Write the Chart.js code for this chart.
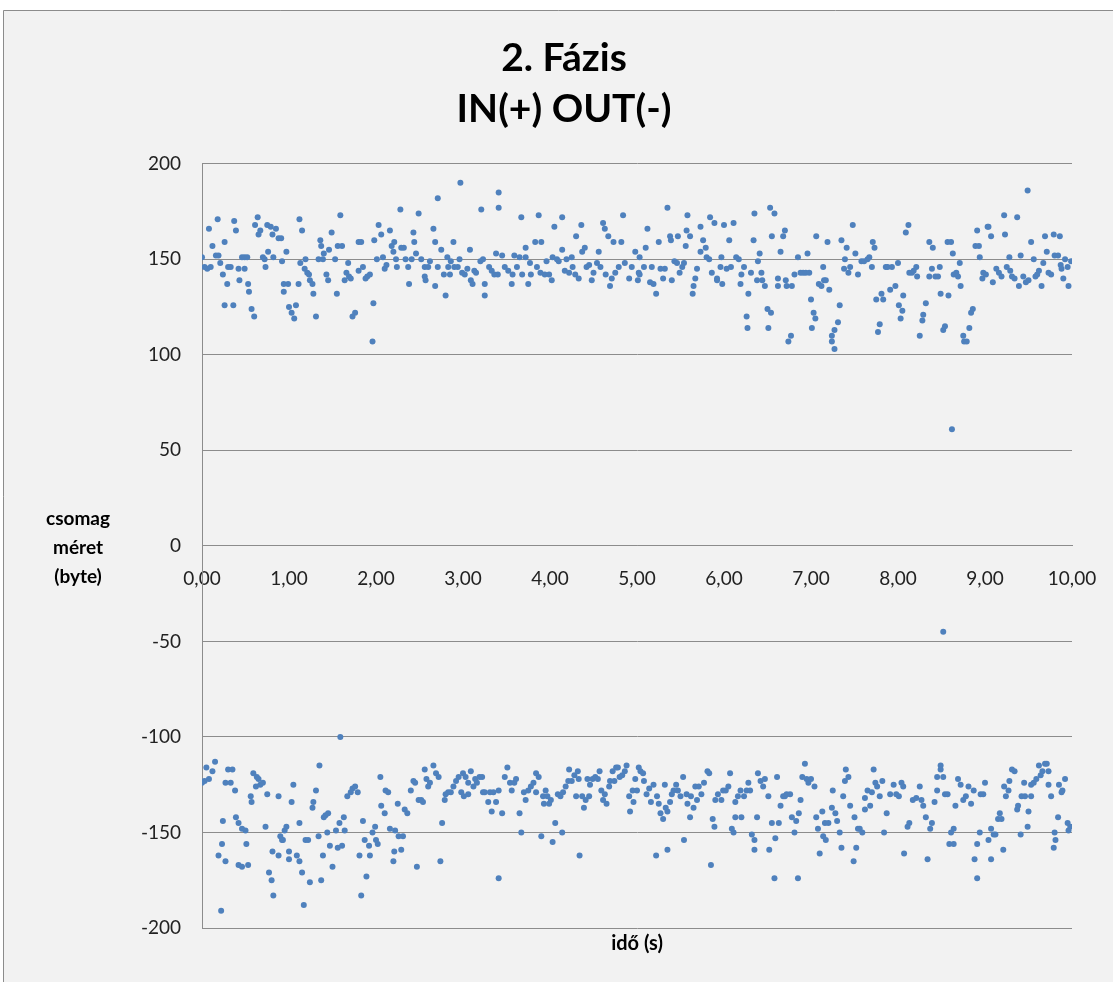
<!DOCTYPE html>
<html>
<head>
<meta charset="utf-8">
<script src="https://cdn.jsdelivr.net/npm/chart.js@4/dist/chart.umd.min.js"></script>
<style>
  html, body { margin: 0; padding: 0; background: #fff; }
  #wrap { position: relative; width: 1113px; height: 982px; }
</style>
</head>
<body>
<div id="wrap"><canvas id="chart" width="1113" height="982"></canvas></div>
<script>
// 2. fázis – csomagméret az idő függvényében, [idő (s), méret (byte)]
const inPackets = [
  [0,151],[0.03,146],[0.06,145],[0.08,166],[0.10,146],[0.12,157],[0.16,152],[0.18,171],[0.19,152],[0.21,148],[0.24,142],[0.26,126],[0.26,159],[0.29,137],[0.30,146],[0.33,146],[0.36,126],[0.37,170],[0.39,165],[0.42,145],[0.43,139],[0.46,151],[0.49,145],[0.49,151],[0.52,151],[0.53,137],[0.54,133],[0.57,124],[0.60,120],[0.61,168],[0.64,172],[0.65,163],[0.67,165],[0.70,151],[0.72,150],[0.73,146],[0.75,168],[0.76,154],[0.79,167],[0.81,163],[0.82,151],[0.85,166],[0.88,161],[0.91,161],[0.92,149],[0.94,137],[0.94,133],[0.97,154],[0.99,137],
  [1.00,125],[1.03,122],[1.06,119],[1.08,126],[1.11,137],[1.12,171],[1.13,148],[1.15,165],[1.18,145],[1.19,150],[1.21,143],[1.23,142],[1.24,139],[1.27,137],[1.28,132],[1.31,120],[1.34,150],[1.36,160],[1.37,157],[1.39,150],[1.40,153],[1.43,142],[1.45,139],[1.46,155],[1.49,164],[1.53,150],[1.55,132],[1.56,157],[1.59,173],[1.61,157],[1.64,139],[1.66,143],[1.68,148],[1.69,141],[1.71,140],[1.73,120],[1.76,122],[1.80,144],[1.80,159],[1.83,159],[1.85,146],[1.88,140],[1.90,141],[1.93,142],[1.96,107],[1.97,127],[1.98,160],
  [2.01,150],[2.03,168],[2.06,163],[2.08,151],[2.10,145],[2.12,147],[2.16,165],[2.18,157],[2.20,154],[2.21,159],[2.23,150],[2.24,146],[2.28,176],[2.29,156],[2.32,156],[2.34,150],[2.37,146],[2.38,137],[2.41,150],[2.43,164],[2.44,159],[2.46,153],[2.49,174],[2.52,150],[2.56,146],[2.56,141],[2.57,139],[2.60,146],[2.62,149],[2.66,166],[2.68,159],[2.68,136],[2.71,182],[2.71,146],[2.75,155],[2.78,142],[2.80,131],[2.82,151],[2.83,146],[2.85,142],[2.86,149],[2.89,159],[2.90,146],[2.94,146],[2.96,150],[2.97,190],[2.99,143],
  [3.02,142],[3.05,145],[3.08,155],[3.09,139],[3.11,137],[3.13,144],[3.15,143],[3.20,149],[3.21,176],[3.23,150],[3.25,137],[3.25,131],[3.30,146],[3.33,144],[3.36,142],[3.38,153],[3.40,142],[3.41,185],[3.41,177],[3.45,152],[3.48,146],[3.52,144],[3.56,137],[3.57,142],[3.59,152],[3.62,146],[3.65,151],[3.67,172],[3.68,142],[3.72,156],[3.72,151],[3.75,137],[3.77,148],[3.78,142],[3.83,159],[3.85,146],[3.87,173],[3.89,143],[3.90,159],[3.94,142],[3.96,149],[3.99,142],
  [4.02,139],[4.03,151],[4.05,167],[4.08,150],[4.10,149],[4.14,172],[4.14,155],[4.17,144],[4.19,150],[4.22,143],[4.25,151],[4.26,146],[4.29,142],[4.30,162],[4.33,140],[4.36,168],[4.37,154],[4.40,156],[4.42,146],[4.45,147],[4.48,139],[4.50,143],[4.54,148],[4.56,154],[4.58,146],[4.61,169],[4.63,166],[4.64,142],[4.67,162],[4.69,136],[4.71,140],[4.73,159],[4.75,143],[4.79,146],[4.82,159],[4.84,173],[4.86,148],[4.91,140],[4.94,146],[4.98,154],
  [5.01,139],[5.02,143],[5.03,151],[5.03,142],[5.08,146],[5.10,156],[5.12,166],[5.15,138],[5.17,146],[5.19,137],[5.22,132],[5.25,159],[5.27,145],[5.30,140],[5.32,145],[5.35,177],[5.38,162],[5.39,160],[5.40,139],[5.43,149],[5.46,148],[5.47,162],[5.49,143],[5.52,146],[5.54,148],[5.56,157],[5.57,165],[5.58,173],[5.61,162],[5.64,132],[5.65,136],[5.67,140],[5.69,145],[5.73,167],[5.73,154],[5.76,160],[5.79,156],[5.80,151],[5.83,150],[5.84,172],[5.86,143],[5.89,169],[5.92,140],[5.92,139],[5.96,146],[5.97,151],[5.98,137],
  [6.00,168],[6.03,145],[6.06,160],[6.08,146],[6.11,169],[6.14,151],[6.17,150],[6.19,137],[6.20,142],[6.23,146],[6.26,120],[6.27,114],[6.28,132],[6.31,143],[6.34,160],[6.35,174],[6.38,139],[6.39,149],[6.41,153],[6.43,143],[6.44,139],[6.47,136],[6.50,124],[6.51,114],[6.53,177],[6.54,122],[6.55,162],[6.58,174],[6.62,136],[6.62,140],[6.65,154],[6.68,162],[6.70,165],[6.71,139],[6.72,136],[6.74,107],[6.77,110],[6.78,136],[6.81,142],[6.85,151],[6.88,143],[6.91,143],[6.94,143],[6.96,153],[6.98,143],
  [7.00,129],[7.01,114],[7.03,122],[7.05,119],[7.06,162],[7.09,137],[7.12,136],[7.14,146],[7.15,139],[7.17,139],[7.19,159],[7.21,134],[7.24,110],[7.24,107],[7.27,103],[7.27,113],[7.31,117],[7.33,126],[7.35,160],[7.38,145],[7.39,150],[7.41,156],[7.43,143],[7.45,146],[7.48,168],[7.51,153],[7.54,142],[7.58,149],[7.61,149],[7.65,150],[7.67,151],[7.70,146],[7.71,159],[7.73,156],[7.75,129],[7.77,112],[7.79,116],[7.81,132],[7.83,129],[7.86,146],[7.88,146],[7.91,134],[7.93,146],[7.97,136],
  [8.00,148],[8.01,126],[8.03,119],[8.05,123],[8.06,131],[8.09,164],[8.12,168],[8.13,143],[8.16,143],[8.18,144],[8.21,146],[8.22,141],[8.25,110],[8.28,118],[8.29,121],[8.32,127],[8.36,141],[8.36,159],[8.39,145],[8.40,156],[8.43,141],[8.46,141],[8.48,146],[8.49,132],[8.52,113],[8.54,115],[8.57,159],[8.58,131],[8.61,159],[8.62,61],[8.63,153],[8.64,142],[8.67,143],[8.69,141],[8.71,148],[8.72,136],[8.75,110],[8.76,107],[8.79,107],[8.82,114],[8.84,122],[8.86,124],[8.89,157],[8.91,165],[8.93,157],[8.94,151],[8.97,140],[8.98,143],
  [9.01,142],[9.03,167],[9.04,167],[9.07,162],[9.09,138],[9.13,145],[9.16,143],[9.19,141],[9.22,173],[9.23,163],[9.25,146],[9.28,151],[9.29,144],[9.31,141],[9.34,140],[9.37,172],[9.39,136],[9.41,152],[9.44,141],[9.47,138],[9.49,186],[9.50,139],[9.53,159],[9.56,150],[9.58,141],[9.60,142],[9.62,144],[9.65,136],[9.67,148],[9.69,162],[9.71,154],[9.73,143],[9.76,142],[9.79,163],[9.80,152],[9.84,152],[9.86,162],[9.87,147],[9.88,145],[9.90,140],[9.92,150],[9.95,146],[9.96,136],[9.99,149]
];

const outPackets = [
  [0,-124],[0.03,-123],[0.05,-116],[0.08,-122],[0.12,-118],[0.15,-113],[0.19,-162],[0.22,-191],[0.23,-156],[0.24,-144],[0.27,-165],[0.27,-124],[0.30,-117],[0.33,-124],[0.35,-117],[0.38,-128],[0.39,-142],[0.42,-145],[0.42,-167],[0.46,-168],[0.46,-148],[0.50,-149],[0.51,-156],[0.53,-167],[0.56,-131],[0.57,-134],[0.59,-119],[0.62,-126],[0.63,-121],[0.65,-122],[0.67,-125],[0.70,-124],[0.73,-147],[0.75,-130],[0.77,-171],[0.80,-175],[0.81,-160],[0.82,-183],[0.88,-131],[0.88,-162],[0.90,-152],[0.92,-154],[0.93,-154],[0.95,-149],[0.97,-147],
  [1.00,-160],[1.00,-164],[1.03,-134],[1.05,-125],[1.09,-162],[1.12,-145],[1.12,-165],[1.15,-171],[1.17,-188],[1.19,-154],[1.22,-154],[1.24,-176],[1.27,-137],[1.28,-134],[1.31,-128],[1.34,-152],[1.35,-115],[1.37,-175],[1.39,-162],[1.40,-142],[1.42,-141],[1.44,-150],[1.45,-140],[1.47,-157],[1.50,-168],[1.54,-149],[1.56,-158],[1.58,-145],[1.59,-100],[1.61,-157],[1.63,-142],[1.64,-149],[1.67,-131],[1.71,-129],[1.73,-127],[1.76,-126],[1.79,-129],[1.81,-162],[1.83,-183],[1.85,-144],[1.87,-154],[1.89,-173],[1.92,-157],[1.93,-162],[1.96,-150],[1.99,-147],
  [2.00,-154],[2.02,-156],[2.05,-121],[2.06,-136],[2.10,-140],[2.11,-128],[2.14,-129],[2.16,-148],[2.20,-165],[2.21,-160],[2.22,-149],[2.25,-135],[2.26,-152],[2.29,-159],[2.31,-152],[2.33,-138],[2.36,-140],[2.40,-128],[2.43,-123],[2.45,-124],[2.47,-168],[2.49,-133],[2.52,-133],[2.54,-134],[2.56,-117],[2.58,-122],[2.60,-126],[2.62,-124],[2.66,-115],[2.69,-119],[2.72,-121],[2.74,-165],[2.76,-145],[2.79,-133],[2.80,-130],[2.83,-129],[2.86,-129],[2.89,-126],[2.92,-123],[2.95,-121],[2.98,-129],
  [3.00,-119],[3.01,-131],[3.03,-121],[3.06,-130],[3.06,-124],[3.09,-118],[3.12,-126],[3.14,-122],[3.16,-124],[3.19,-121],[3.22,-121],[3.23,-129],[3.25,-129],[3.29,-134],[3.31,-129],[3.33,-139],[3.35,-129],[3.38,-134],[3.41,-128],[3.41,-174],[3.45,-140],[3.48,-121],[3.51,-116],[3.54,-124],[3.56,-128],[3.59,-124],[3.61,-122],[3.65,-140],[3.67,-150],[3.70,-129],[3.72,-133],[3.75,-128],[3.78,-126],[3.81,-124],[3.84,-119],[3.84,-129],[3.87,-121],[3.90,-152],[3.92,-131],[3.93,-135],[3.95,-128],[3.97,-131],[3.99,-135],
  [4.01,-133],[4.03,-155],[4.06,-145],[4.09,-130],[4.12,-131],[4.14,-150],[4.15,-129],[4.18,-126],[4.21,-123],[4.22,-117],[4.25,-123],[4.28,-120],[4.30,-131],[4.32,-118],[4.33,-122],[4.34,-162],[4.37,-131],[4.39,-137],[4.41,-133],[4.43,-122],[4.45,-131],[4.46,-125],[4.49,-122],[4.52,-121],[4.55,-122],[4.57,-118],[4.59,-128],[4.61,-133],[4.63,-130],[4.65,-135],[4.68,-126],[4.69,-123],[4.72,-118],[4.74,-123],[4.76,-116],[4.78,-116],[4.80,-121],[4.83,-120],[4.86,-118],[4.88,-115],[4.91,-131],[4.92,-139],[4.95,-128],[4.96,-134],[4.98,-122],
  [5.00,-128],[5.02,-116],[5.04,-118],[5.07,-119],[5.08,-123],[5.11,-130],[5.14,-127],[5.16,-134],[5.19,-125],[5.22,-162],[5.23,-131],[5.25,-135],[5.27,-140],[5.30,-143],[5.32,-125],[5.33,-137],[5.35,-139],[5.35,-159],[5.38,-134],[5.40,-130],[5.42,-128],[5.45,-125],[5.47,-128],[5.50,-131],[5.53,-121],[5.54,-154],[5.57,-130],[5.58,-135],[5.61,-142],[5.62,-131],[5.65,-137],[5.67,-126],[5.69,-133],[5.71,-126],[5.74,-130],[5.77,-124],[5.81,-118],[5.83,-119],[5.85,-167],[5.87,-143],[5.89,-147],[5.90,-133],[5.93,-130],[5.97,-133],[5.99,-128],
  [6.02,-128],[6.05,-126],[6.07,-119],[6.09,-148],[6.11,-150],[6.13,-142],[6.13,-134],[6.16,-131],[6.19,-128],[6.20,-142],[6.23,-131],[6.26,-128],[6.28,-124],[6.30,-128],[6.32,-151],[6.35,-159],[6.35,-154],[6.38,-142],[6.39,-119],[6.42,-123],[6.45,-126],[6.47,-122],[6.51,-131],[6.52,-159],[6.55,-145],[6.58,-174],[6.59,-153],[6.61,-121],[6.63,-145],[6.65,-136],[6.68,-131],[6.70,-131],[6.72,-130],[6.76,-130],[6.78,-142],[6.81,-150],[6.83,-144],[6.85,-174],[6.86,-140],[6.88,-133],[6.90,-121],[6.93,-114],[6.95,-122],[6.97,-124],
  [7.00,-122],[7.04,-126],[7.06,-142],[7.08,-148],[7.10,-161],[7.13,-139],[7.14,-152],[7.16,-145],[7.17,-154],[7.20,-145],[7.24,-137],[7.25,-128],[7.28,-140],[7.30,-144],[7.33,-150],[7.35,-158],[7.37,-131],[7.39,-123],[7.40,-117],[7.43,-121],[7.45,-136],[7.49,-165],[7.50,-142],[7.52,-158],[7.54,-148],[7.56,-148],[7.59,-150],[7.62,-138],[7.62,-132],[7.65,-128],[7.68,-136],[7.70,-129],[7.72,-117],[7.74,-124],[7.76,-126],[7.79,-131],[7.82,-123],[7.84,-150],[7.87,-140],[7.91,-130],[7.95,-125],[7.98,-130],
  [8.01,-131],[8.04,-124],[8.06,-126],[8.07,-161],[8.11,-147],[8.13,-145],[8.17,-133],[8.21,-132],[8.25,-126],[8.27,-133],[8.29,-136],[8.32,-142],[8.34,-164],[8.37,-148],[8.39,-145],[8.42,-134],[8.45,-128],[8.45,-121],[8.49,-117],[8.49,-115],[8.52,-45],[8.52,-121],[8.54,-130],[8.57,-130],[8.59,-156],[8.61,-150],[8.64,-156],[8.64,-148],[8.66,-136],[8.69,-122],[8.72,-125],[8.75,-133],[8.78,-131],[8.81,-126],[8.84,-135],[8.87,-128],[8.88,-164],[8.91,-174],[8.91,-156],[8.94,-150],[8.95,-130],[8.98,-130],
  [9.00,-124],[9.04,-154],[9.07,-148],[9.07,-164],[9.10,-151],[9.12,-151],[9.15,-143],[9.17,-140],[9.19,-143],[9.21,-159],[9.22,-126],[9.24,-131],[9.27,-128],[9.28,-123],[9.31,-117],[9.34,-118],[9.37,-138],[9.38,-136],[9.41,-151],[9.42,-131],[9.45,-124],[9.46,-131],[9.49,-147],[9.50,-139],[9.53,-131],[9.53,-125],[9.56,-124],[9.59,-122],[9.62,-115],[9.64,-120],[9.66,-118],[9.69,-114],[9.71,-114],[9.73,-118],[9.73,-125],[9.76,-131],[9.79,-158],[9.80,-150],[9.81,-154],[9.84,-142],[9.85,-125],[9.88,-129],[9.89,-128],[9.92,-122],[9.95,-145],[9.96,-149],[9.98,-147]
];

const titleLines = ['2. Fázis', 'IN(+) OUT(-)'];
const yTitleLines = ['csomag', 'méret', '(byte)'];
const xTitle = 'idő (s)';

const FONT = 'Lato, "Open Sans", sans-serif';
const DOT = '#4f81bd';
const GRID = '#8c8c8c';

const toPoints = (arr) => arr.map(([t, v]) => ({ x: t, y: v }));

// x scales should not push the plot area in for their edge labels
const noSidePadding = (scale) => {
  scale.paddingLeft = 0;
  scale.paddingRight = 0;
};

// grey chart background; only the top and left frame edges show
const framePlugin = {
  id: 'frame',
  beforeDraw(chart) {
    const ctx = chart.ctx;
    ctx.save();
    ctx.fillStyle = '#ffffff';
    ctx.fillRect(0, 0, chart.width, chart.height);
    ctx.fillStyle = '#f2f2f2';
    ctx.fillRect(3, 10, chart.width - 3, chart.height - 10);
    ctx.strokeStyle = '#8c8c8c';
    ctx.lineWidth = 1;
    ctx.beginPath();
    ctx.moveTo(3.5, chart.height);
    ctx.lineTo(3.5, 10.5);
    ctx.lineTo(chart.width, 10.5);
    ctx.stroke();
    ctx.restore();
  },
};

// horizontal (not rotated) y axis title, three lines
const yTitlePlugin = {
  id: 'yTitle',
  afterDraw(chart) {
    const ctx = chart.ctx;
    const mid = chart.scales.y.getPixelForValue(0);
    ctx.save();
    ctx.font = `bold 19px ${FONT}`;
    ctx.fillStyle = '#000';
    ctx.textAlign = 'center';
    ctx.textBaseline = 'middle';
    yTitleLines.forEach((line, i) => {
      ctx.fillText(line, 78, mid - 27 + i * 29);
    });
    ctx.restore();
  },
};

new Chart(document.getElementById('chart'), {
  type: 'scatter',
  data: {
    datasets: [
      { label: 'IN', data: toPoints(inPackets) },
      { label: 'OUT', data: toPoints(outPackets) },
    ].map((d) => ({
      ...d,
      backgroundColor: DOT,
      borderWidth: 0,
      pointRadius: 3,
      pointHoverRadius: 3,
    })),
  },
  options: {
    responsive: false,
    animation: false,
    layout: { padding: { left: 56, right: 41, top: 0, bottom: 22 } },
    plugins: {
      legend: { display: false },
      tooltip: { enabled: false },
      title: {
        display: true,
        text: titleLines,
        color: '#000',
        font: { family: FONT, size: 39, weight: 'bold', lineHeight: 1.33 },
        padding: { top: 32, bottom: 28 },
      },
    },
    scales: {
      x: {
        type: 'linear',
        position: { y: 0 },
        min: 0,
        max: 10,
        afterFit: noSidePadding,
        ticks: {
          stepSize: 1,
          padding: 22,
          color: '#222',
          font: { family: FONT, size: 19 },
          callback: (v) => v.toFixed(2).replace('.', ','),
        },
        grid: { display: false, drawTicks: false },
        border: { display: true, color: GRID, width: 1 },
      },
      x2: {
        type: 'linear',
        position: 'bottom',
        min: 0,
        max: 10,
        afterFit: noSidePadding,
        ticks: { display: false },
        grid: { display: false, drawTicks: false },
        border: { display: false },
        title: {
          display: true,
          text: xTitle,
          color: '#000',
          font: { family: FONT, size: 20, weight: 'bold' },
          padding: { top: 4, bottom: 4 },
        },
      },
      y: {
        min: -200,
        max: 200,
        afterFit: (scale) => { scale.width = 146; },
        ticks: {
          stepSize: 50,
          padding: 21,
          color: '#222',
          font: { family: FONT, size: 19 },
        },
        grid: { color: GRID, lineWidth: 1, drawTicks: false },
        border: { display: true, color: GRID, width: 1 },
      },
    },
  },
  plugins: [framePlugin, yTitlePlugin],
});
</script>
</body>
</html>
